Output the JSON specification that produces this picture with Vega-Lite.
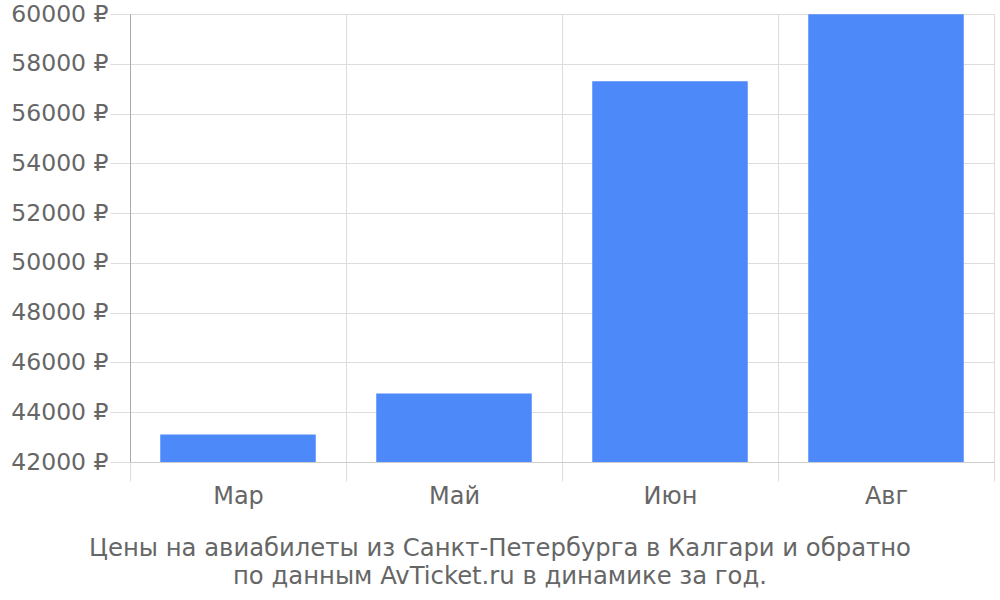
{
  "$schema": "https://vega.github.io/schema/vega-lite/v6.json",
  "autosize": {"type": "none"},
  "width": 864,
  "height": 448,
  "padding": {"left": 130, "top": 14, "right": 6, "bottom": 138},
  "background": "white",
  "config": {
    "font": "DejaVu Sans",
    "view": {"stroke": "#dddddd"}
  },
  "title": {
    "text": ["Цены на авиабилеты из Санкт-Петербурга в Калгари и обратно", "по данным AvTicket.ru в динамике за год."],
    "orient": "bottom",
    "anchor": "middle",
    "dx": -62,
    "offset": 29,
    "fontSize": 24.3,
    "fontWeight": "normal",
    "color": "#666666",
    "lineHeight": 28
  },
  "data": {
    "values": [
      {"month": "Мар", "price": 43100},
      {"month": "Май", "price": 44750},
      {"month": "Июн", "price": 57300},
      {"month": "Авг", "price": 59990}
    ]
  },
  "mark": {"type": "bar", "color": "#4d89f9", "width": {"band": 0.72}, "clip": true},
  "encoding": {
    "x": {
      "field": "month",
      "type": "nominal",
      "sort": null,
      "scale": {"paddingInner": 0, "paddingOuter": 0},
      "axis": {
        "title": null,
        "tickBand": "extent",
        "grid": true,
        "gridColor": "#dddddd",
        "tickColor": "#dddddd",
        "tickSize": 19,
        "domainColor": "#cccccc",
        "labelAngle": 0,
        "labelFontSize": 24,
        "labelColor": "#666666",
        "labelPadding": 3
      }
    },
    "y": {
      "field": "price",
      "type": "quantitative",
      "scale": {"domain": [42000, 60000], "zero": false, "nice": false},
      "axis": {
        "title": null,
        "values": [42000, 44000, 46000, 48000, 50000, 52000, 54000, 56000, 58000, 60000],
        "labelExpr": "datum.value + ' ₽'",
        "gridColor": "#dddddd",
        "tickColor": "#dddddd",
        "tickSize": 20,
        "domainColor": "#aaaaaa",
        "labelFontSize": 23.5,
        "labelColor": "#666666",
        "labelPadding": 2
      }
    }
  }
}
